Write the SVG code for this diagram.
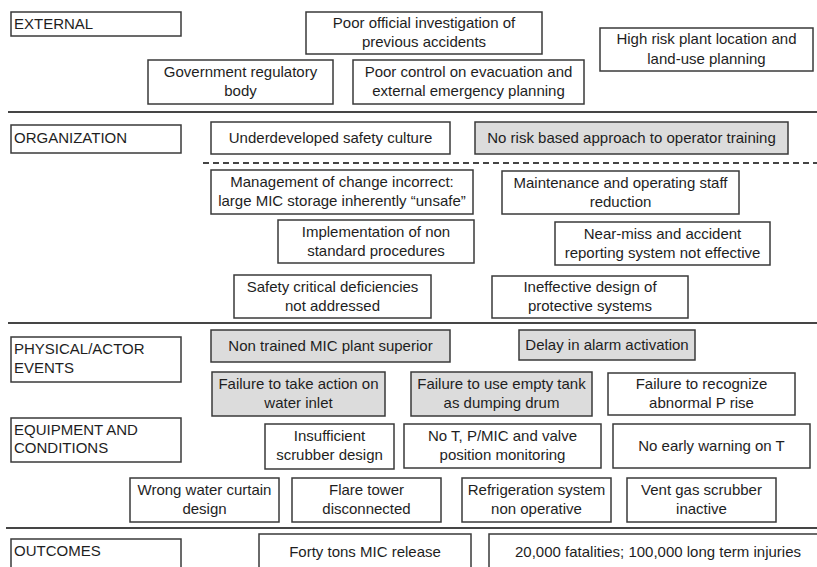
<svg xmlns="http://www.w3.org/2000/svg" width="817" height="567" viewBox="0 0 817 567">
<style>
.b{fill:#fff;stroke:#3a3a3a;stroke-width:1.5}
.g{fill:#dcdcdc;stroke:#3a3a3a;stroke-width:1.5}
.t{font-family:"Liberation Sans",Arial,sans-serif;font-size:15px;fill:#1e1e1e;text-anchor:middle}
.c{font-family:"Liberation Sans",Arial,sans-serif;font-size:15px;fill:#1e1e1e}
.sep{stroke:#454545;stroke-width:2;fill:none}
.dash{stroke:#454545;stroke-width:2;stroke-dasharray:6 4;fill:none}
</style>
<rect width="817" height="567" fill="#fff"/>
<g id="separators">
<line class="sep" x1="8" y1="112" x2="817" y2="112"/>
<line class="dash" x1="203" y1="163" x2="817" y2="163"/>
<line class="sep" x1="8" y1="323" x2="817" y2="323"/>
<line class="sep" x1="6" y1="528" x2="817" y2="528"/>
</g>
<g id="connectors"></g>
<g id="cat-external"><rect class="b" x="11" y="12" width="170" height="24"/><text class="c" x="14" y="29">EXTERNAL</text></g>
<g id="n-investigation"><rect class="b" x="306" y="12" width="236" height="42"/><text class="t" x="424" y="28">Poor official investigation of</text><text class="t" x="424" y="47">previous accidents</text></g>
<g id="n-gov"><rect class="b" x="148" y="60" width="185" height="44"/><text class="t" x="240.5" y="77">Government regulatory</text><text class="t" x="240.5" y="96">body</text></g>
<g id="n-evac"><rect class="b" x="353" y="60" width="231" height="44"/><text class="t" x="468.5" y="77">Poor control on evacuation and</text><text class="t" x="468.5" y="96">external emergency planning</text></g>
<g id="n-highrisk"><rect class="b" x="600" y="28" width="213" height="43"/><text class="t" x="706.5" y="44">High risk plant location and</text><text class="t" x="706.5" y="64">land-use planning</text></g>
<g id="cat-org"><rect class="b" x="11" y="125" width="170" height="28"/><text class="c" x="14" y="143">ORGANIZATION</text></g>
<g id="n-culture"><rect class="b" x="211" y="122" width="239" height="32"/><text class="t" x="330.5" y="143">Underdeveloped safety culture</text></g>
<g id="n-training"><rect class="g" x="475" y="122" width="313" height="32"/><text class="t" x="631.5" y="143">No risk based approach to operator training</text></g>
<g id="n-moc"><rect class="b" x="211" y="170" width="262" height="44"/><text class="t" x="342" y="187">Management of change incorrect:</text><text class="t" x="342" y="206">large MIC storage inherently “unsafe”</text></g>
<g id="n-staff"><rect class="b" x="502" y="171" width="237" height="43"/><text class="t" x="620.5" y="188">Maintenance and operating staff</text><text class="t" x="620.5" y="207">reduction</text></g>
<g id="n-impl"><rect class="b" x="278" y="220" width="196" height="43"/><text class="t" x="376" y="237">Implementation of non</text><text class="t" x="376" y="256">standard procedures</text></g>
<g id="n-nearmiss"><rect class="b" x="555" y="222" width="215" height="43"/><text class="t" x="662.5" y="239">Near-miss and accident</text><text class="t" x="662.5" y="258">reporting system not effective</text></g>
<g id="n-safety"><rect class="b" x="234" y="275" width="197" height="43"/><text class="t" x="332.5" y="292">Safety critical deficiencies</text><text class="t" x="332.5" y="311">not addressed</text></g>
<g id="n-ineffective"><rect class="b" x="492" y="276" width="196" height="42"/><text class="t" x="590" y="292">Ineffective design of</text><text class="t" x="590" y="311">protective systems</text></g>
<g id="cat-physical"><rect class="b" x="11" y="337" width="170" height="45"/><text class="c" x="14" y="354">PHYSICAL/ACTOR</text><text class="c" x="14" y="373">EVENTS</text></g>
<g id="n-nontrained"><rect class="g" x="211" y="330" width="239" height="32"/><text class="t" x="330.5" y="351">Non trained MIC plant superior</text></g>
<g id="n-delay"><rect class="g" x="519" y="330" width="176" height="30"/><text class="t" x="607" y="350">Delay in alarm activation</text></g>
<g id="n-waterinlet"><rect class="g" x="212" y="372" width="173" height="44"/><text class="t" x="298.5" y="389">Failure to take action on</text><text class="t" x="298.5" y="408">water inlet</text></g>
<g id="n-dumping"><rect class="g" x="411" y="372" width="181" height="44"/><text class="t" x="501.5" y="389">Failure to use empty tank</text><text class="t" x="501.5" y="408">as dumping drum</text></g>
<g id="n-recognize"><rect class="b" x="608" y="373" width="187" height="42"/><text class="t" x="701.5" y="389">Failure to recognize</text><text class="t" x="701.5" y="408">abnormal P rise</text></g>
<g id="cat-equipment"><rect class="b" x="11" y="418" width="170" height="44"/><text class="c" x="14" y="435">EQUIPMENT AND</text><text class="c" x="14" y="453">CONDITIONS</text></g>
<g id="n-scrubber"><rect class="b" x="265" y="424" width="129" height="45"/><text class="t" x="329.5" y="441">Insufficient</text><text class="t" x="329.5" y="460">scrubber design</text></g>
<g id="n-monitoring"><rect class="b" x="404" y="424" width="197" height="44"/><text class="t" x="502.5" y="441">No T, P/MIC and valve</text><text class="t" x="502.5" y="460">position monitoring</text></g>
<g id="n-warning"><rect class="b" x="613" y="424" width="197" height="44"/><text class="t" x="711.5" y="451">No early warning on T</text></g>
<g id="n-curtain"><rect class="b" x="130" y="478" width="149" height="44"/><text class="t" x="204.5" y="495">Wrong water curtain</text><text class="t" x="204.5" y="514">design</text></g>
<g id="n-flare"><rect class="b" x="292" y="478" width="149" height="44"/><text class="t" x="366.5" y="495">Flare tower</text><text class="t" x="366.5" y="514">disconnected</text></g>
<g id="n-refrigeration"><rect class="b" x="462" y="478" width="149" height="44"/><text class="t" x="536.5" y="495">Refrigeration system</text><text class="t" x="536.5" y="514">non operative</text></g>
<g id="n-vent"><rect class="b" x="627" y="478" width="149" height="44"/><text class="t" x="701.5" y="495">Vent gas scrubber</text><text class="t" x="701.5" y="514">inactive</text></g>
<g id="cat-outcomes"><rect class="b" x="11" y="539" width="170" height="40"/><text class="c" x="14" y="556">OUTCOMES</text></g>
<g id="n-release"><rect class="b" x="259" y="534" width="212" height="45"/><text class="t" x="365" y="557">Forty tons MIC release</text></g>
<g id="n-injuries"><rect class="b" x="489" y="534" width="340" height="45"/><text class="t" x="658" y="557">20,000 fatalities; 100,000 long term injuries</text></g>
</svg>
